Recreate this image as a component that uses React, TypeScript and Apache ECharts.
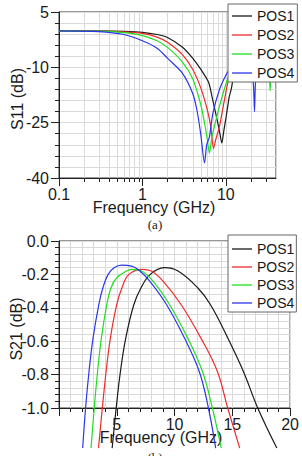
import React, { useEffect, useRef } from 'react';
import * as echarts from 'echarts';

const seriesNames = ['POS1', 'POS2', 'POS3', 'POS4'];
const seriesColors = ['#1a1a1a', '#ee2b2b', '#22dd22', '#2a35ee'];

// (a) S11 in dB against frequency in GHz (log frequency axis)
const s11Pos1: [number, number][] = [
  [0.1, -0.1], [0.3, -0.12], [0.6, -0.25], [1, -0.5], [1.5, -1.1], [2, -1.9], [3, -4.5],
  [4, -7.5], [5, -10.5], [6.2, -14], [7, -19], [8, -25], [8.5, -28], [8.96, -30.5],
  [9.5, -27], [10.1, -23.4], [11, -18], [11.6, -16], [12.7, -11.6], [15, -9], [25, -8], [40, -8],
];
const s11Pos2: [number, number][] = [
  [0.1, -0.1], [0.3, -0.15], [0.6, -0.4], [1, -0.8], [1.5, -1.8], [2, -3.2], [3, -6.5],
  [4, -10.5], [5, -15.5], [6, -21.5], [6.6, -26], [7.12, -32], [7.6, -29.5], [8.4, -26],
  [9.6, -19], [11, -12.5], [12.5, -10], [20, -8], [40, -8],
];
const s11Pos3: [number, number][] = [
  [0.1, -0.1], [0.3, -0.2], [0.6, -0.6], [1, -1.4], [1.5, -2.8], [2, -4.6], [3, -8.5],
  [4, -13], [5, -20], [5.6, -25.5], [6, -29.5], [6.37, -33.3], [6.8, -29], [7.3, -26],
  [8.4, -20.5], [10.1, -14.3], [11, -12.1], [14, -9], [25, -7], [32, -9], [33.5, -13],
  [34, -16.3], [34.5, -13], [35.5, -9], [40, -8],
];
const s11Pos4: [number, number][] = [
  [0.1, -0.1], [0.3, -0.3], [0.6, -1.1], [1, -2.8], [1.5, -4.8], [2, -7.5], [3, -11.5],
  [4, -17], [4.5, -21.5], [5, -28], [5.56, -35.9], [5.9, -31], [6.37, -28.8], [7, -22.5],
  [8.4, -16], [10.1, -12], [11.6, -9.8], [14, -7], [18, -8], [20.5, -11], [21.5, -15],
  [22.1, -22], [22.6, -15], [23.5, -10], [28, -7], [40, -8],
];
const s11FreqMin = 0.1;
const s11FreqMax = 40;
const s11DbMin = -40;
const s11DbMax = 5;
const s11DbStep = 15;
// 2..9 multiples of each decade
const s11MinorFreqs = [
  0.2, 0.3, 0.4, 0.5, 0.6, 0.7, 0.8, 0.9,
  2, 3, 4, 5, 6, 7, 8, 9,
  20, 30,
];

// (b) S21 in dB against frequency in GHz
const s21Pos1: [number, number][] = [
  [4.6, -1.24], [4.95, -1.0], [5.32, -0.78], [5.78, -0.58], [6.48, -0.38], [7.1, -0.28],
  [7.9, -0.2], [9.1, -0.16], [10.3, -0.18], [12.0, -0.28], [13.1, -0.38], [14.6, -0.58],
  [15.95, -0.78], [17.2, -1.0], [18.85, -1.24],
];
const s21Pos2: [number, number][] = [
  [3.42, -1.24], [3.75, -1.0], [4.08, -0.78], [4.45, -0.58], [5.0, -0.38], [5.45, -0.28],
  [6.05, -0.2], [7.22, -0.17], [8.0, -0.18], [9.0, -0.24], [10.56, -0.38], [12.27, -0.58],
  [13.7, -0.78], [14.6, -1.0], [15.64, -1.24],
];
const s21Pos3: [number, number][] = [
  [2.77, -1.24], [3.05, -1.0], [3.34, -0.78], [3.67, -0.58], [4.14, -0.38], [4.5, -0.28],
  [5.0, -0.22], [5.85, -0.18], [6.28, -0.17], [7.13, -0.18], [8.13, -0.24], [9.56, -0.38],
  [11.13, -0.58], [12.41, -0.78], [13.27, -1.0], [14.04, -1.24],
];
const s21Pos4: [number, number][] = [
  [2.05, -1.24], [2.3, -1.0], [2.6, -0.78], [2.95, -0.58], [3.45, -0.38], [3.8, -0.28],
  [4.25, -0.2], [4.77, -0.16], [5.42, -0.145], [6.28, -0.15], [7.0, -0.18], [7.85, -0.24],
  [9.3, -0.38], [10.85, -0.58], [12.13, -0.78], [12.93, -1.0], [13.56, -1.24],
];
const s21FreqMin = 0;
const s21FreqMax = 20;
const s21FreqStep = 5;
const s21DbMin = -1.0;
const s21DbMax = 0.0;
const s21DbStep = 0.2;

const sansFont = '"Liberation Sans", Arial, Helvetica, sans-serif';
const serifFont = '"Liberation Serif", "Times New Roman", serif';
const axisColor = '#222';
const gridColor = '#dadada';
const textColor = '#1a1a1a';

const s11Data = [s11Pos1, s11Pos2, s11Pos3, s11Pos4];
const s21Data = [s21Pos1, s21Pos2, s21Pos3, s21Pos4];

function axisBase(fontSize: number) {
  return {
    axisLine: { show: true, onZero: false, lineStyle: { color: axisColor, width: 1 } },
    axisTick: { show: true, inside: false, length: 8, lineStyle: { color: axisColor } },
    minorTick: { show: true, splitNumber: 5, length: 4, lineStyle: { color: axisColor } },
    splitLine: { show: true, lineStyle: { color: gridColor, width: 1 } },
    minorSplitLine: { show: true, lineStyle: { color: gridColor, width: 1 } },
    axisLabel: { fontSize, fontFamily: sansFont, color: textColor },
  };
}

// Legend rows: a thin coloured bar followed by the series name
function legendBox(top: number, padding: number[], itemGap: number) {
  return {
    data: seriesNames,
    orient: 'vertical',
    left: 228,
    top,
    padding,
    itemGap,
    icon: 'rect',
    itemWidth: 20,
    itemHeight: 1.3,
    backgroundColor: '#ffffff',
    borderColor: '#666',
    borderWidth: 1,
    borderRadius: 0,
    selectedMode: false,
    textStyle: { fontSize: 14, lineHeight: 14, fontFamily: sansFont, color: textColor },
    z: 10,
  };
}

export default function App() {
  const ref = useRef<HTMLDivElement>(null);

  useEffect(() => {
    if (!ref.current) return;
    const chart = echarts.init(ref.current, undefined, { renderer: 'svg' });

    const base = axisBase(16);

    const option: any = {
      animation: false,
      backgroundColor: '#ffffff',
      grid: [
        { left: 59, top: 12, width: 217, height: 166, show: true, borderColor: '#333', borderWidth: 1, backgroundColor: 'transparent', containLabel: false },
        { left: 59, top: 241, width: 233, height: 167, show: true, borderColor: '#333', borderWidth: 1, backgroundColor: 'transparent', containLabel: false },
      ],
      xAxis: [
        {
          ...base,
          gridIndex: 0,
          type: 'log',
          logBase: 10,
          min: s11FreqMin,
          max: s11FreqMax,
          minorTick: { show: false },
          minorSplitLine: { show: false },
          axisLabel: {
            ...base.axisLabel,
            margin: 8,
            showMaxLabel: false,
            formatter: (v: number) => String(+Number(v).toPrecision(6)),
          },
        },
        {
          ...base,
          gridIndex: 1,
          type: 'value',
          min: s21FreqMin,
          max: s21FreqMax,
          interval: s21FreqStep,
          axisLabel: { ...base.axisLabel, margin: 8, showMinLabel: false },
        },
      ],
      yAxis: [
        {
          ...base,
          gridIndex: 0,
          type: 'value',
          min: s11DbMin,
          max: s11DbMax,
          interval: s11DbStep,
          axisLabel: { ...base.axisLabel, margin: 10 },
        },
        {
          ...base,
          gridIndex: 1,
          type: 'value',
          min: s21DbMin,
          max: s21DbMax,
          interval: s21DbStep,
          axisLabel: {
            ...base.axisLabel,
            margin: 10,
            formatter: (v: number) => Number(v).toFixed(1),
          },
        },
      ],
      legend: [legendBox(4, [5, 3, 2, 4], 5), legendBox(235, [7, 2, 2, 4], 4)],
      series: [
        // minor grid lines and ticks of the log frequency axis
        {
          type: 'custom',
          name: 'logMinor',
          xAxisIndex: 0,
          yAxisIndex: 0,
          silent: true,
          clip: false,
          z: 1,
          data: s11MinorFreqs.map((f) => [f, s11DbMin]),
          renderItem: (_params: any, api: any) => {
            const f = api.value(0);
            const top = api.coord([f, s11DbMax]);
            const bottom = api.coord([f, s11DbMin]);
            const x = Math.round(top[0]) + 0.5;
            return {
              type: 'group',
              children: [
                { type: 'line', shape: { x1: x, y1: top[1], x2: x, y2: bottom[1] }, style: { stroke: gridColor, lineWidth: 1 } },
                { type: 'line', shape: { x1: x, y1: bottom[1], x2: x, y2: bottom[1] + 4 }, style: { stroke: axisColor, lineWidth: 1 } },
              ],
            };
          },
        },
        ...s11Data.map((d, i) => ({
          type: 'line',
          name: seriesNames[i],
          xAxisIndex: 0,
          yAxisIndex: 0,
          data: d,
          symbol: 'none',
          smooth: 0.25,
          lineStyle: { color: seriesColors[i], width: 1.2 },
          itemStyle: { color: seriesColors[i] },
          z: 3,
        })),
        ...s21Data.map((d, i) => ({
          type: 'line',
          name: seriesNames[i],
          xAxisIndex: 1,
          yAxisIndex: 1,
          data: d,
          symbol: 'none',
          smooth: 0.4,
          clip: false,
          lineStyle: { color: seriesColors[i], width: 1.2 },
          itemStyle: { color: seriesColors[i] },
          z: 3,
        })),
      ],
      graphic: [
        { type: 'text', x: 154, y: 207, style: { text: 'Frequency (GHz)', fontSize: 16, fontFamily: sansFont, fill: textColor, align: 'center', verticalAlign: 'middle' } },
        { type: 'text', x: 161, y: 437, style: { text: 'Frequency (GHz)', fontSize: 16, fontFamily: sansFont, fill: textColor, align: 'center', verticalAlign: 'middle' } },
        { type: 'text', x: 17, y: 99, rotation: Math.PI / 2, style: { text: 'S11 (dB)', fontSize: 16, fontFamily: sansFont, fill: textColor, align: 'center', verticalAlign: 'middle' } },
        { type: 'text', x: 16, y: 329, rotation: Math.PI / 2, style: { text: 'S21 (dB)', fontSize: 16, fontFamily: sansFont, fill: textColor, align: 'center', verticalAlign: 'middle' } },
        { type: 'text', x: 155, y: 224, style: { text: '(a)', fontSize: 13, fontFamily: serifFont, fill: textColor, align: 'center', verticalAlign: 'middle' } },
        { type: 'text', x: 155, y: 457, style: { text: '(b)', fontSize: 13, fontFamily: serifFont, fill: textColor, align: 'center', verticalAlign: 'middle' } },
      ],
    };

    chart.setOption(option);
    return () => chart.dispose();
  }, []);

  return (
    <div
      ref={ref}
      style={{ position: 'absolute', left: 0, top: 0, width: 302, height: 456 }}
    />
  );
}
